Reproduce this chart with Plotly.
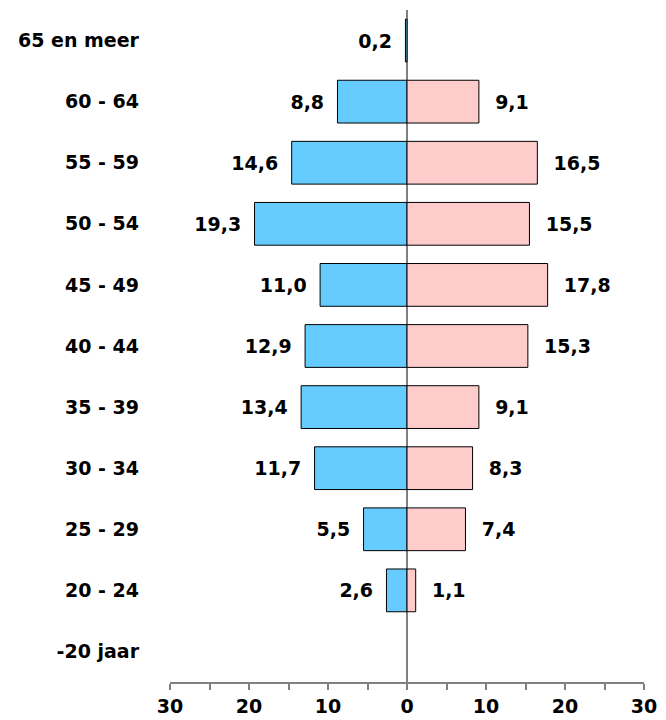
import plotly.graph_objects as go

# leeftijdsgroepen, van boven naar beneden
groepen = ['65 en meer', '60 - 64', '55 - 59', '50 - 54', '45 - 49', '40 - 44',
           '35 - 39', '30 - 34', '25 - 29', '20 - 24', '-20 jaar']
mannen = [0.2, 8.8, 14.6, 19.3, 11.0, 12.9, 13.4, 11.7, 5.5, 2.6, None]
vrouwen = [None, 9.1, 16.5, 15.5, 17.8, 15.3, 9.1, 8.3, 7.4, 1.1, None]

tick_vals = [-30, -20, -10, 0, 10, 20, 30]
tick_text = ['30', '20', '10', '0', '10', '20', '30']

FONT = dict(family='DejaVu Sans', size=19, color='black', weight='bold')
PAD_L = '\u00a0\u2009'
PAD_R = '\u00a0\u00a0'


def label(v):
    return f'{v:.1f}'.replace('.', ',') if v else ''


fig = go.Figure()
fig.add_trace(go.Bar(
    y=groepen, x=[-v if v else None for v in mannen], orientation='h',
    marker=dict(color='#66CCFF', line=dict(color='black', width=1)),
    text=[label(v) + PAD_L if v else '' for v in mannen],
    textposition='outside', textfont=FONT, cliponaxis=False,
    hoverinfo='skip',
))
fig.add_trace(go.Bar(
    y=groepen, x=vrouwen, orientation='h',
    marker=dict(color='#FFCCCC', line=dict(color='black', width=1)),
    text=[PAD_R + label(v) if v else '' for v in vrouwen],
    textposition='outside', textfont=FONT, cliponaxis=False,
    hoverinfo='skip',
))

# pagina heeft 8px body-marge, figuur iets kleiner zodat alles past
fig.update_layout(
    width=650, height=712,
    barmode='relative', bargap=0.3,
    showlegend=False,
    plot_bgcolor='white', paper_bgcolor='white',
    margin=dict(l=162, r=14, t=2, b=38),
    font=FONT,
)
fig.update_xaxes(
    range=[-30, 30], tickvals=tick_vals, ticktext=tick_text, automargin=False,
    showgrid=False, zeroline=True, zerolinecolor='#808080', zerolinewidth=1.5,
    showline=True, linecolor='#808080', linewidth=1.5,
    ticks='outside', ticklen=6, tickcolor='#808080', tickwidth=1.5,
    minor=dict(dtick=5, ticks='outside', ticklen=6, tickcolor='#808080', tickwidth=1.5),
    tickfont=FONT,
)
fig.update_yaxes(
    categoryorder='array', categoryarray=groepen, autorange='reversed',
    showgrid=False, showline=False, ticks='', ticklabelstandoff=30,
    automargin=False, tickfont=FONT,
)

fig.write_html('out.html')
